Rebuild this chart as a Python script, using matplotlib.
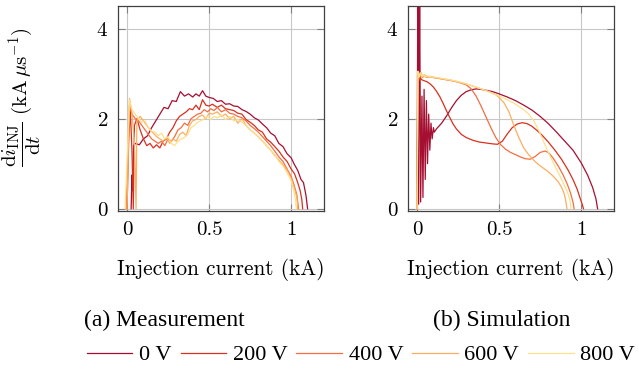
import matplotlib
matplotlib.use("Agg")
import matplotlib.pyplot as plt

plt.rcParams['font.family'] = ['cmr10', 'DejaVu Serif']
plt.rcParams['mathtext.fontset'] = 'cm'
plt.rcParams['axes.formatter.use_mathtext'] = True

LABELS = ["0 V", "200 V", "400 V", "600 V", "800 V"]
COLORS = ["#a50f32", "#d7301f", "#f46d43", "#fdae61", "#fee08b"]

# measurement (a)
M0_X = [0.025, 0.03, 0.035, 0.04, 0.05, 0.075, 0.1, 0.125, 0.15, 0.175, 0.2, 0.225, 0.25, 0.275, 0.3, 0.325, 0.35, 0.375,
        0.4, 0.42, 0.44, 0.46, 0.48, 0.5, 0.525, 0.55, 0.575, 0.6, 0.625, 0.65, 0.675, 0.7, 0.725, 0.75, 0.775, 0.8,
        0.825, 0.85, 0.875, 0.9, 0.925, 0.95, 0.975, 1.0, 1.02, 1.04, 1.06, 1.075, 1.09, 1.1]
M0_Y = [0.0, 0.75, 0.4, 1.4, 1.45, 1.42, 1.55, 1.62, 1.8, 1.95, 2.1, 2.25, 2.22, 2.4, 2.38, 2.6, 2.5, 2.55,
        2.48, 2.55, 2.5, 2.62, 2.5, 2.47, 2.45, 2.38, 2.4, 2.32, 2.33, 2.28, 2.27, 2.2, 2.16, 2.1, 2.02, 1.97,
        1.88, 1.8, 1.68, 1.62, 1.45, 1.38, 1.22, 1.13, 0.98, 0.85, 0.65, 0.58, 0.3, 0.0]
M1_X = [0.0, 0.01, 0.02, 0.03, 0.038, 0.045, 0.06, 0.08, 0.1, 0.12, 0.14, 0.16, 0.18, 0.2, 0.22, 0.24, 0.26, 0.28,
        0.3, 0.32, 0.34, 0.36, 0.38, 0.4, 0.42, 0.44, 0.46, 0.48, 0.5, 0.52, 0.55, 0.575, 0.6, 0.625, 0.65, 0.675,
        0.7, 0.725, 0.75, 0.775, 0.8, 0.825, 0.85, 0.875, 0.9, 0.925, 0.95, 0.975, 1.0, 1.02, 1.04, 1.055, 1.065, 1.07]
M1_Y = [0.0, 1.5, 2.2, 1.3, 0.0, 1.85, 2.0, 1.75, 1.55, 1.4, 1.45, 1.35, 1.42, 1.35, 1.5, 1.55, 1.7, 1.8,
        1.95, 2.05, 2.1, 2.15, 2.22, 2.2, 2.3, 2.2, 2.42, 2.3, 2.28, 2.32, 2.25, 2.3, 2.22, 2.2, 2.18, 2.12,
        2.1, 1.98, 1.92, 1.85, 1.75, 1.7, 1.55, 1.48, 1.38, 1.28, 1.15, 1.05, 0.88, 0.78, 0.58, 0.4, 0.2, 0.0]
M2_X = [-0.005, 0.015, 0.03, 0.05, 0.07, 0.09, 0.11, 0.13, 0.15, 0.17, 0.19, 0.21, 0.23, 0.25, 0.27, 0.29, 0.31,
        0.33, 0.35, 0.37, 0.39, 0.41, 0.43, 0.45, 0.47, 0.49, 0.51, 0.53, 0.55, 0.575, 0.6, 0.625, 0.65, 0.675,
        0.7, 0.725, 0.75, 0.775, 0.8, 0.825, 0.85, 0.875, 0.9, 0.925, 0.95, 0.975, 1.0, 1.02, 1.035, 1.045]
M2_Y = [0.0, 2.3, 2.1, 2.0, 1.95, 1.85, 1.75, 1.65, 1.55, 1.5, 1.45, 1.5, 1.4, 1.55, 1.5, 1.6, 1.75,
        1.8, 1.9, 1.85, 2.0, 2.05, 2.1, 2.12, 2.2, 2.15, 2.22, 2.18, 2.25, 2.15, 2.2, 2.12, 2.1, 2.05,
        2.02, 1.95, 1.85, 1.78, 1.7, 1.6, 1.5, 1.4, 1.28, 1.15, 1.05, 0.88, 0.72, 0.5, 0.3, 0.0]
M3_X = [0.0, 0.015, 0.03, 0.045, 0.055, 0.06, 0.08, 0.1, 0.12, 0.14, 0.16, 0.18, 0.2, 0.22, 0.24, 0.26, 0.28, 0.3,
        0.32, 0.34, 0.36, 0.38, 0.4, 0.42, 0.44, 0.46, 0.48, 0.5, 0.52, 0.55, 0.575, 0.6, 0.625, 0.65, 0.675, 0.7,
        0.725, 0.75, 0.775, 0.8, 0.825, 0.85, 0.875, 0.9, 0.925, 0.95, 0.975, 1.0, 1.02, 1.035, 1.04]
M3_Y = [0.0, 2.45, 2.1, 1.5, 0.0, 1.95, 2.05, 1.95, 1.85, 1.75, 1.68, 1.6, 1.55, 1.5, 1.58, 1.45, 1.55, 1.5,
        1.65, 1.7, 1.62, 1.85, 1.95, 1.98, 2.05, 2.08, 2.0, 2.12, 2.1, 2.15, 2.05, 2.1, 2.0, 2.05, 1.9, 2.0,
        1.85, 1.75, 1.68, 1.6, 1.5, 1.4, 1.3, 1.18, 1.08, 0.98, 0.85, 0.68, 0.45, 0.25, 0.0]
M4_X = [-0.012, 0.015, 0.03, 0.05, 0.07, 0.09, 0.11, 0.13, 0.15, 0.17, 0.19, 0.21, 0.23, 0.25, 0.27, 0.29, 0.31,
        0.33, 0.35, 0.37, 0.39, 0.41, 0.43, 0.45, 0.47, 0.49, 0.51, 0.53, 0.55, 0.575, 0.6, 0.625, 0.65, 0.675,
        0.7, 0.725, 0.75, 0.775, 0.8, 0.825, 0.85, 0.875, 0.9, 0.925, 0.95, 0.975, 1.0, 1.015, 1.025, 1.032]
M4_Y = [0.0, 2.42, 2.2, 2.1, 2.0, 1.92, 1.95, 1.8, 1.72, 1.7, 1.62, 1.68, 1.55, 1.6, 1.45, 1.4, 1.5,
        1.55, 1.58, 1.65, 1.8, 1.85, 1.92, 1.95, 2.0, 2.05, 1.98, 2.05, 2.02, 2.08, 1.98, 2.05, 1.95, 1.98,
        1.92, 1.85, 1.75, 1.68, 1.6, 1.5, 1.4, 1.3, 1.2, 1.05, 0.95, 0.8, 0.62, 0.42, 0.22, 0.0]

# simulation (b)
S0_X = [0.0, 0.005, 0.01, 0.016, 0.022, 0.03, 0.036, 0.043, 0.05, 0.057, 0.064, 0.071, 0.078, 0.085, 0.092, 0.1,
        0.105, 0.12, 0.15, 0.18, 0.21, 0.24, 0.27, 0.3, 0.33, 0.36, 0.39, 0.42, 0.46, 0.5, 0.55, 0.6, 0.65, 0.7,
        0.75, 0.8, 0.85, 0.9, 0.95, 1.0, 1.04, 1.07, 1.09, 1.1]
S0_Y = [0.0, 5.0, 0.1, 5.0, 0.15, 2.5, 0.25, 2.65, 0.65, 2.4, 1.0, 2.1, 1.3, 1.9, 1.55, 1.8,
        1.7, 1.78, 1.9, 2.06, 2.24, 2.4, 2.52, 2.6, 2.64, 2.66, 2.65, 2.63, 2.6, 2.55, 2.48, 2.4, 2.3, 2.19,
        2.05, 1.89, 1.7, 1.5, 1.3, 1.02, 0.74, 0.47, 0.22, 0.0]
S1_X = [0.0, 0.005, 0.012, 0.02, 0.03, 0.045, 0.06, 0.08, 0.1, 0.12, 0.14, 0.16, 0.18, 0.2, 0.22, 0.24, 0.27,
        0.3, 0.34, 0.38, 0.42, 0.46, 0.49, 0.52, 0.55, 0.58, 0.61, 0.64, 0.67, 0.7, 0.73, 0.76, 0.8, 0.84, 0.88,
        0.92, 0.95, 0.975, 0.995, 1.008, 1.014]
S1_Y = [0.0, 2.95, 2.85, 2.9, 2.86, 2.84, 2.82, 2.77, 2.7, 2.6, 2.48, 2.33, 2.17, 2.02, 1.88, 1.77, 1.65,
        1.58, 1.52, 1.48, 1.46, 1.44, 1.43, 1.5, 1.66, 1.8, 1.88, 1.91, 1.89, 1.83, 1.74, 1.64, 1.48, 1.3, 1.1,
        0.86, 0.65, 0.44, 0.22, 0.08, 0.0]
S2_X = [0.0, 0.006, 0.014, 0.022, 0.032, 0.042, 0.055, 0.08, 0.1, 0.15, 0.2, 0.25, 0.3, 0.33, 0.36, 0.39, 0.42,
        0.45, 0.48, 0.51, 0.54, 0.57, 0.6, 0.63, 0.66, 0.69, 0.72, 0.75, 0.78, 0.8, 0.83, 0.86, 0.89, 0.915,
        0.935, 0.95, 0.957]
S2_Y = [0.0, 3.02, 2.9, 3.0, 2.91, 2.96, 2.92, 2.93, 2.91, 2.88, 2.85, 2.81, 2.75, 2.66, 2.5, 2.28, 2.04,
        1.8, 1.58, 1.42, 1.32, 1.25, 1.2, 1.15, 1.11, 1.1, 1.16, 1.25, 1.28, 1.25, 1.12, 0.95, 0.75, 0.55,
        0.35, 0.15, 0.0]
S3_X = [0.0, 0.008, 0.016, 0.025, 0.035, 0.045, 0.06, 0.08, 0.1, 0.15, 0.2, 0.25, 0.3, 0.35, 0.4, 0.45, 0.48,
        0.5, 0.53, 0.56, 0.59, 0.62, 0.65, 0.68, 0.71, 0.74, 0.77, 0.8, 0.83, 0.86, 0.88, 0.895, 0.905, 0.913]
S3_Y = [0.0, 3.05, 2.93, 3.02, 2.92, 2.97, 2.93, 2.94, 2.92, 2.89, 2.86, 2.82, 2.77, 2.71, 2.65, 2.58, 2.53,
        2.47, 2.35, 2.15, 1.85, 1.58, 1.35, 1.2, 1.08, 0.98, 0.9, 0.82, 0.72, 0.6, 0.48, 0.35, 0.2, 0.0]
S4_X = [0.0, 0.005, 0.012, 0.02, 0.03, 0.04, 0.05, 0.06, 0.08, 0.1, 0.15, 0.2, 0.25, 0.3, 0.35, 0.4, 0.45, 0.5,
        0.55, 0.6, 0.65, 0.68, 0.71, 0.74, 0.77, 0.8, 0.83, 0.86, 0.89, 0.91, 0.925, 0.935, 0.937]
S4_Y = [0.0, 3.05, 2.92, 3.02, 2.93, 2.98, 2.92, 2.95, 2.93, 2.92, 2.89, 2.86, 2.82, 2.77, 2.71, 2.65, 2.58, 2.5,
        2.42, 2.32, 2.2, 2.1, 1.96, 1.75, 1.5, 1.25, 1.02, 0.8, 0.58, 0.42, 0.28, 0.12, 0.0]

MEAS = [(M0_X, M0_Y), (M1_X, M1_Y), (M2_X, M2_Y), (M3_X, M3_Y), (M4_X, M4_Y)]
SIM = [(S0_X, S0_Y), (S1_X, S1_Y), (S2_X, S2_Y), (S3_X, S3_Y), (S4_X, S4_Y)]

fig = plt.figure(figsize=(6.39, 3.74), dpi=100)
ax_a = fig.add_axes([118/639, 1-211/374, 206/639, 205/374])
ax_b = fig.add_axes([408/639, 1-211/374, 206/639, 205/374])

for ax, curves in ((ax_a, MEAS), (ax_b, SIM)):
    lines = []
    for (xs, ys), c, lab in zip(curves, COLORS, LABELS):
        ln, = ax.plot(xs, ys, color=c, lw=0.9, label=lab)
        lines.append(ln)
    ax.set_xlim(-0.055, 1.2)
    ax.set_ylim(-0.05, 4.5)
    ax.set_xticks([0, 0.5, 1])
    ax.set_xticklabels(["0", "0.5", "1"])
    ax.set_yticks([0, 2, 4])
    ax.grid(True, color="#c8c8c8", lw=0.8)
    ax.set_axisbelow(True)
    ax.tick_params(direction="in", length=5, width=0.8, color="#808080", top=True, right=True,
                   labelsize=15, pad=7)
    for s in ax.spines.values():
        s.set_color("#404040")
        s.set_linewidth(0.9)
    ax.set_xlabel("Injection current (kA)", fontsize=15.4, labelpad=14)

fig.text(22/639, 1-97/374, r'$\dfrac{\mathrm{d}i_\mathrm{INJ}}{\mathrm{d}t}\ (\mathrm{kA}\,\mu\mathrm{s}^{-1})$',
         rotation=90, ha="center", va="center", fontsize=15)

fig.text(164/639, 1-320/374, "(a) Measurement", ha="center", va="center", fontsize=17, family="Liberation Serif")
fig.text(502/639, 1-320/374, "(b) Simulation", ha="center", va="center", fontsize=17, family="Liberation Serif")

fig.legend(handles=lines, loc="center", bbox_to_anchor=(361/639, 1-355/374), ncol=5, frameon=False,
           handlelength=2.05, handletextpad=0.3, columnspacing=0.4, borderaxespad=0,
           prop={"family": "Liberation Serif", "size": 16})

fig.savefig("out.png", dpi=100)
